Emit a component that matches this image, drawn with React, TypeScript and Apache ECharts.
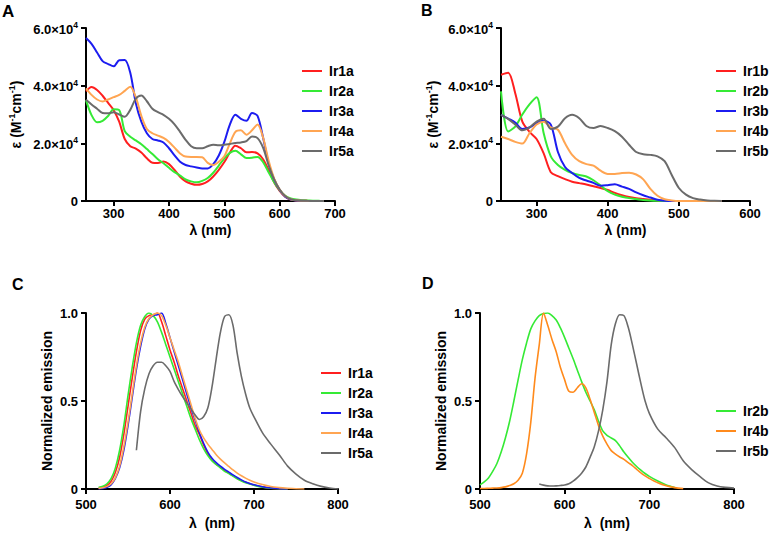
import React, { useEffect, useRef } from "react";
import * as echarts from "echarts";

// ---------- Panel A: absorption, Ir1a..Ir5a ----------
const waveA = [250, 260, 270, 280, 290, 300, 310, 320, 330, 340, 350, 360, 370, 380, 390, 400, 410, 420, 430, 440, 450, 460, 470, 480, 490, 500, 510, 520, 530, 540, 550, 560, 570, 580, 590, 600, 610, 620, 630, 640, 650, 660, 670, 680];
const ir1a = [38000, 39500, 38500, 36500, 34000, 31500, 27500, 21500, 19000, 18200, 16800, 14800, 13300, 13200, 13700, 12800, 10800, 8400, 6800, 6000, 5600, 5900, 6800, 8500, 10800, 13500, 16800, 19200, 18300, 16900, 17000, 16500, 14500, 10800, 6500, 3500, 1500, 500, 200, 100, 50, 20, 0, 0];
const ir2a = [35000, 29800, 27300, 27800, 29500, 31800, 31500, 24200, 22300, 21000, 19700, 18000, 16300, 14500, 13100, 11500, 10000, 8800, 7500, 6800, 6500, 7000, 8000, 9800, 12300, 14800, 16700, 17400, 16200, 14900, 15000, 15300, 13500, 10000, 6500, 3800, 1800, 900, 500, 300, 200, 100, 50, 0];
const ir3a = [56500, 54500, 51500, 48500, 47500, 46700, 48800, 48900, 44500, 34000, 27500, 23500, 21500, 21000, 20300, 18300, 15800, 13600, 12500, 12000, 11600, 11300, 11300, 12800, 15800, 20500, 26500, 29900, 28500, 27800, 30500, 29500, 22000, 13000, 7500, 3800, 1500, 500, 150, 50, 0, 0, 0, 0];
const ir4a = [39100, 36800, 35200, 34500, 35200, 36000, 36800, 38200, 39600, 36000, 29500, 25000, 23500, 22700, 21900, 20500, 18500, 16500, 15400, 15300, 15300, 15200, 13200, 12500, 13600, 15500, 20000, 24000, 24500, 23000, 24500, 26500, 22000, 14000, 7800, 4000, 1700, 600, 250, 100, 50, 20, 0, 0];
const ir5a = [35100, 33500, 32000, 30500, 30400, 30800, 30000, 29200, 31600, 35500, 36600, 34600, 32000, 30800, 29900, 28500, 26600, 24000, 21200, 19000, 18300, 18300, 19000, 19500, 19300, 19500, 19800, 20100, 20300, 20800, 22400, 21800, 18500, 12500, 7500, 4000, 1700, 600, 250, 100, 50, 20, 0, 0];

// ---------- Panel B: absorption, Ir1b..Ir5b ----------
const waveB = [250, 260, 270, 280, 290, 300, 310, 320, 330, 340, 350, 360, 370, 380, 390, 400, 410, 420, 430, 440, 450, 460, 470, 480, 490, 500, 510, 520, 530, 540, 550, 560];
const ir1b = [43800, 44500, 37400, 27500, 24000, 21500, 16500, 10000, 8600, 7600, 6700, 6200, 5700, 5100, 4500, 3800, 2800, 2000, 1400, 1000, 700, 400, 200, 80, 0, 0, 0, 0, 0, 0, 0, 0];
const ir2b = [38000, 24100, 25800, 30000, 33500, 36000, 23500, 15500, 12500, 10800, 9700, 9000, 8500, 7200, 5400, 3400, 2200, 1500, 1000, 700, 350, 150, 50, 0, 0, 0, 0, 0, 0, 0, 0, 0];
const ir3b = [29900, 28600, 27200, 25000, 25500, 27000, 27800, 26500, 17000, 11800, 9700, 8000, 7100, 6300, 5300, 5500, 5800, 5000, 4200, 3000, 2000, 1200, 400, 100, 0, 0, 0, 0, 0, 0, 0, 0];
const ir4b = [22300, 21500, 20500, 19900, 23500, 26500, 27500, 25500, 24700, 20000, 16000, 13800, 12800, 12300, 10500, 9400, 9400, 9700, 9800, 9200, 7500, 4200, 1800, 600, 200, 0, 0, 0, 0, 0, 0, 0];
const ir5b = [29900, 28500, 26500, 24500, 25500, 27500, 28500, 25000, 25800, 28700, 29900, 28700, 26000, 25300, 26000, 25300, 24200, 22300, 19500, 17000, 16200, 16000, 15500, 13800, 9000, 4500, 2200, 1000, 500, 200, 50, 0];

// ---------- Panels C and D: normalized emission ----------
const waveCD = [500, 505, 510, 515, 520, 525, 530, 535, 540, 545, 550, 555, 560, 565, 570, 575, 580, 585, 590, 595, 600, 605, 610, 615, 620, 625, 630, 635, 640, 645, 650, 655, 660, 665, 670, 675, 680, 685, 690, 695, 700, 710, 720, 730, 740, 750, 760, 770, 780, 790, 800];
const emIr1a = [null, null, null, 0.005, 0.01, 0.02, 0.045, 0.095, 0.18, 0.31, 0.47, 0.63, 0.78, 0.9, 0.965, 0.985, 0.99, 1.0, 0.95, 0.87, 0.79, 0.72, 0.64, 0.57, 0.5, 0.43, 0.36, 0.31, 0.25, 0.2, 0.165, 0.14, 0.125, 0.105, 0.09, 0.075, 0.06, 0.048, 0.038, 0.03, 0.023, 0.012, 0.005, 0.002, 0, null, null, null, null, null, null];
const emIr2a = [null, null, null, 0.01, 0.015, 0.03, 0.06, 0.12, 0.22, 0.36, 0.53, 0.69, 0.83, 0.93, 0.98, 1.0, 0.985, 0.95, 0.89, 0.82, 0.75, 0.68, 0.61, 0.54, 0.47, 0.4, 0.34, 0.28, 0.23, 0.19, 0.16, 0.14, 0.12, 0.1, 0.088, 0.073, 0.058, 0.046, 0.036, 0.028, 0.021, 0.01, 0.004, 0.001, 0, null, null, null, null, null, null];
const emIr3a = [null, null, null, 0.0, 0.003, 0.01, 0.025, 0.06, 0.12, 0.22, 0.36, 0.52, 0.68, 0.81, 0.91, 0.965, 0.985, 0.99, 1.0, 0.94, 0.86, 0.78, 0.7, 0.62, 0.54, 0.46, 0.39, 0.32, 0.26, 0.21, 0.175, 0.15, 0.13, 0.112, 0.096, 0.08, 0.065, 0.052, 0.04, 0.031, 0.024, 0.013, 0.006, 0.002, 0, null, null, null, null, null, null];
const emIr4a = [null, null, null, 0.003, 0.007, 0.015, 0.03, 0.065, 0.13, 0.24, 0.38, 0.54, 0.7, 0.83, 0.92, 0.97, 0.99, 1.0, 0.985, 0.93, 0.86, 0.79, 0.72, 0.64, 0.56, 0.48, 0.4, 0.335, 0.29, 0.255, 0.225, 0.195, 0.17, 0.148, 0.128, 0.108, 0.09, 0.075, 0.062, 0.05, 0.04, 0.025, 0.014, 0.008, 0.004, 0.001, 0, null, null, null, null];
const emIr5a = [null, null, null, null, null, null, null, null, null, null, null, null, 0.22, 0.44, 0.57, 0.655, 0.7, 0.72, 0.72, 0.7, 0.668, 0.61, 0.565, 0.525, 0.49, 0.455, 0.42, 0.395, 0.41, 0.46, 0.58, 0.74, 0.89, 0.98, 0.99, 0.93, 0.77, 0.64, 0.54, 0.46, 0.41, 0.32, 0.255, 0.195, 0.13, 0.085, 0.05, 0.03, 0.015, 0.006, 0];
const emIr2b = [0.023, 0.04, 0.063, 0.1, 0.145, 0.21, 0.29, 0.385, 0.5, 0.62, 0.735, 0.83, 0.91, 0.955, 0.985, 0.997, 1.0, 0.985, 0.96, 0.915, 0.86, 0.8, 0.74, 0.675, 0.61, 0.55, 0.5, 0.45, 0.385, 0.33, 0.305, 0.29, 0.275, 0.245, 0.21, 0.18, 0.152, 0.128, 0.107, 0.088, 0.072, 0.045, 0.023, 0.008, null, null, null, null, null, null, null];
const emIr4b = [0.003, 0.003, 0.004, 0.005, 0.006, 0.008, 0.012, 0.02, 0.03, 0.05, 0.09, 0.2, 0.38, 0.63, 0.82, 1.0, 0.93, 0.85, 0.78, 0.69, 0.62, 0.555, 0.55, 0.575, 0.598, 0.575, 0.51, 0.435, 0.36, 0.3, 0.255, 0.218, 0.198, 0.182, 0.168, 0.15, 0.133, 0.112, 0.092, 0.075, 0.06, 0.035, 0.018, 0.008, 0.002, null, null, null, null, null, null];
const emIr5b = [null, null, null, null, null, null, null, null, null, null, null, null, null, null, 0.028, 0.022, 0.018, 0.017, 0.018, 0.02, 0.023, 0.03, 0.045, 0.065, 0.09, 0.125, 0.18, 0.24, 0.33, 0.45, 0.61, 0.82, 0.94, 0.99, 0.985, 0.92, 0.82, 0.71, 0.6, 0.5, 0.43, 0.34, 0.29, 0.235, 0.16, 0.11, 0.07, 0.035, 0.017, 0.009, 0.005];

const absTicksA = [300, 400, 500, 600, 700];
const absTicksB = [300, 400, 500, 600];

const RED = "#ff1f1f";
const GREEN = "#35ea35";
const BLUE = "#1c1cf0";
const LORANGE = "#ffa552";
const DORANGE = "#ff8a1c";
const GRAY = "#6b6b6b";

const FONT = 'Arial, "Liberation Sans", sans-serif';
// zero-width suffix keeps emission series names distinct from absorption ones
const ZW = "\u200b";

function pairs(xs: number[], ys: (number | null)[]) {
  const out: number[][] = [];
  xs.forEach((x, i) => {
    const y = ys[i];
    if (y !== null && y !== undefined) out.push([x, y]);
  });
  return out;
}

export default function App() {
  const ref = useRef<HTMLDivElement>(null);
  useEffect(() => {
    if (!ref.current) return;
    const chart = echarts.init(ref.current, null, { renderer: "svg" });

    const axisLine = { show: true, onZero: false, lineStyle: { color: "#000", width: 2 } };
    const axisTick = { show: true, inside: false, length: 5, lineStyle: { color: "#000", width: 2 } };
    const labelStyle = { color: "#000", fontWeight: "bold" as const, fontSize: 13, fontFamily: FONT };
    const nameStyle = { color: "#000", fontWeight: "bold" as const, fontSize: 14, fontFamily: FONT };

    const epsName = "{n|ε (M}{s|-1}{n|cm}{s|-1}{n|)}";
    const epsRich = {
      n: { fontSize: 14, fontWeight: "bold", fontFamily: FONT, color: "#000", lineHeight: 16, verticalAlign: "bottom" },
      s: { fontSize: 9, fontWeight: "bold", fontFamily: FONT, color: "#000", lineHeight: 16, verticalAlign: "top" },
    };
    const absFormatter = (v: number) => (v === 0 ? "0" : `{b|${(v / 10000).toFixed(1)}×10}{s|4}`);
    const absRich = {
      b: { fontSize: 13, fontWeight: "bold", fontFamily: FONT, color: "#000", lineHeight: 15, verticalAlign: "bottom" },
      s: { fontSize: 8.5, fontWeight: "bold", fontFamily: FONT, color: "#000", lineHeight: 15, verticalAlign: "top" },
    };

    const mkLine = (name: string, color: string, data: number[][], xi: number, width: number) => ({
      name,
      type: "line",
      xAxisIndex: xi,
      yAxisIndex: xi,
      data,
      showSymbol: false,
      smooth: 0.3,
      color,
      lineStyle: { color, width },
      emphasis: { disabled: true },
    });

    const mkLegend = (names: string[], left: number, top: number) => ({
      data: names,
      orient: "vertical",
      left,
      top,
      icon: "rect",
      itemWidth: 20,
      itemHeight: 2,
      itemGap: 6,
      padding: 0,
      selectedMode: false,
      textStyle: { color: "#000", fontWeight: "bold", fontSize: 14, fontFamily: FONT, padding: [0, 0, 0, 2] },
    });

    const option: any = {
      animation: false,
      backgroundColor: "#fff",
      title: [
        { text: "A", left: 2, top: 3, padding: 0, textStyle: { fontSize: 17, fontWeight: "bold", color: "#000", fontFamily: FONT } },
        { text: "B", left: 421, top: 2, padding: 0, textStyle: { fontSize: 16, fontWeight: "bold", color: "#000", fontFamily: FONT } },
        { text: "C", left: 12, top: 276, padding: 0, textStyle: { fontSize: 16, fontWeight: "bold", color: "#000", fontFamily: FONT } },
        { text: "D", left: 422, top: 275, padding: 0, textStyle: { fontSize: 16, fontWeight: "bold", color: "#000", fontFamily: FONT } },
      ],
      grid: [
        { left: 86, top: 28, width: 249, height: 173 },
        { left: 501, top: 28, width: 249, height: 173 },
        { left: 86, top: 313, width: 252, height: 176 },
        { left: 480, top: 313, width: 254, height: 176 },
      ],
      xAxis: [
        {
          gridIndex: 0, type: "value", min: 250, max: 700,
          axisLine, axisTick: { ...axisTick, customValues: absTicksA },
          axisLabel: { ...labelStyle, margin: 6, customValues: absTicksA },
          splitLine: { show: false },
          name: "λ (nm)", nameLocation: "middle", nameGap: 22, nameTextStyle: nameStyle,
        },
        {
          gridIndex: 1, type: "value", min: 250, max: 600,
          axisLine, axisTick: { ...axisTick, customValues: absTicksB },
          axisLabel: { ...labelStyle, margin: 6, customValues: absTicksB },
          splitLine: { show: false },
          name: "λ (nm)", nameLocation: "middle", nameGap: 22, nameTextStyle: nameStyle,
        },
        {
          gridIndex: 2, type: "value", min: 500, max: 800, interval: 100,
          axisLine, axisTick, axisLabel: { ...labelStyle, margin: 9 },
          splitLine: { show: false },
          name: "λ  (nm)", nameLocation: "middle", nameGap: 27, nameTextStyle: nameStyle,
        },
        {
          gridIndex: 3, type: "value", min: 500, max: 800, interval: 100,
          axisLine, axisTick, axisLabel: { ...labelStyle, margin: 9 },
          splitLine: { show: false },
          name: "λ  (nm)", nameLocation: "middle", nameGap: 27, nameTextStyle: nameStyle,
        },
      ],
      yAxis: [
        {
          gridIndex: 0, type: "value", min: 0, max: 60000, interval: 20000,
          axisLine, axisTick,
          axisLabel: { ...labelStyle, margin: 8, formatter: absFormatter, rich: absRich },
          splitLine: { show: false },
          name: epsName, nameLocation: "middle", nameGap: 63, nameRotate: 90,
          nameTextStyle: { ...nameStyle, rich: epsRich },
        },
        {
          gridIndex: 1, type: "value", min: 0, max: 60000, interval: 20000,
          axisLine, axisTick,
          axisLabel: { ...labelStyle, margin: 8, formatter: absFormatter, rich: absRich },
          splitLine: { show: false },
          name: epsName, nameLocation: "middle", nameGap: 61, nameRotate: 90,
          nameTextStyle: { ...nameStyle, rich: epsRich },
        },
        {
          gridIndex: 2, type: "value", min: 0, max: 1, interval: 0.5,
          axisLine, axisTick,
          axisLabel: { ...labelStyle, margin: 8, formatter: (v: number) => (v === 0 ? "0" : v.toFixed(1)) },
          splitLine: { show: false },
          name: "Normalized emission", nameLocation: "middle", nameGap: 32, nameRotate: 90, nameTextStyle: nameStyle,
        },
        {
          gridIndex: 3, type: "value", min: 0, max: 1, interval: 0.5,
          axisLine, axisTick,
          axisLabel: { ...labelStyle, margin: 8, formatter: (v: number) => (v === 0 ? "0" : v.toFixed(1)) },
          splitLine: { show: false },
          name: "Normalized emission", nameLocation: "middle", nameGap: 32, nameRotate: 90, nameTextStyle: nameStyle,
        },
      ],
      legend: [
        mkLegend(["Ir1a", "Ir2a", "Ir3a", "Ir4a", "Ir5a"], 302, 64),
        mkLegend(["Ir1b", "Ir2b", "Ir3b", "Ir4b", "Ir5b"], 716, 64),
        mkLegend(["Ir1a" + ZW, "Ir2a" + ZW, "Ir3a" + ZW, "Ir4a" + ZW, "Ir5a" + ZW], 321, 366),
        mkLegend(["Ir2b" + ZW, "Ir4b" + ZW, "Ir5b" + ZW], 716, 404),
      ],
      series: [
        mkLine("Ir1a", RED, pairs(waveA, ir1a), 0, 2),
        mkLine("Ir2a", GREEN, pairs(waveA, ir2a), 0, 2),
        mkLine("Ir3a", BLUE, pairs(waveA, ir3a), 0, 2),
        mkLine("Ir4a", LORANGE, pairs(waveA, ir4a), 0, 2),
        mkLine("Ir5a", GRAY, pairs(waveA, ir5a), 0, 2),
        mkLine("Ir1b", RED, pairs(waveB, ir1b), 1, 2),
        mkLine("Ir2b", GREEN, pairs(waveB, ir2b), 1, 2),
        mkLine("Ir3b", BLUE, pairs(waveB, ir3b), 1, 2),
        mkLine("Ir4b", LORANGE, pairs(waveB, ir4b), 1, 2),
        mkLine("Ir5b", GRAY, pairs(waveB, ir5b), 1, 2),
        mkLine("Ir1a" + ZW, RED, pairs(waveCD, emIr1a), 2, 1.6),
        mkLine("Ir2a" + ZW, GREEN, pairs(waveCD, emIr2a), 2, 1.6),
        mkLine("Ir3a" + ZW, BLUE, pairs(waveCD, emIr3a), 2, 1.6),
        mkLine("Ir4a" + ZW, LORANGE, pairs(waveCD, emIr4a), 2, 1.6),
        mkLine("Ir5a" + ZW, GRAY, pairs(waveCD, emIr5a), 2, 1.6),
        mkLine("Ir2b" + ZW, GREEN, pairs(waveCD, emIr2b), 3, 1.6),
        mkLine("Ir4b" + ZW, DORANGE, pairs(waveCD, emIr4b), 3, 1.6),
        mkLine("Ir5b" + ZW, GRAY, pairs(waveCD, emIr5b), 3, 1.6),
      ],
    };
    chart.setOption(option);
    return () => chart.dispose();
  }, []);

  return <div ref={ref} style={{ position: "absolute", left: 0, top: 0, width: 772, height: 535 }} />;
}
